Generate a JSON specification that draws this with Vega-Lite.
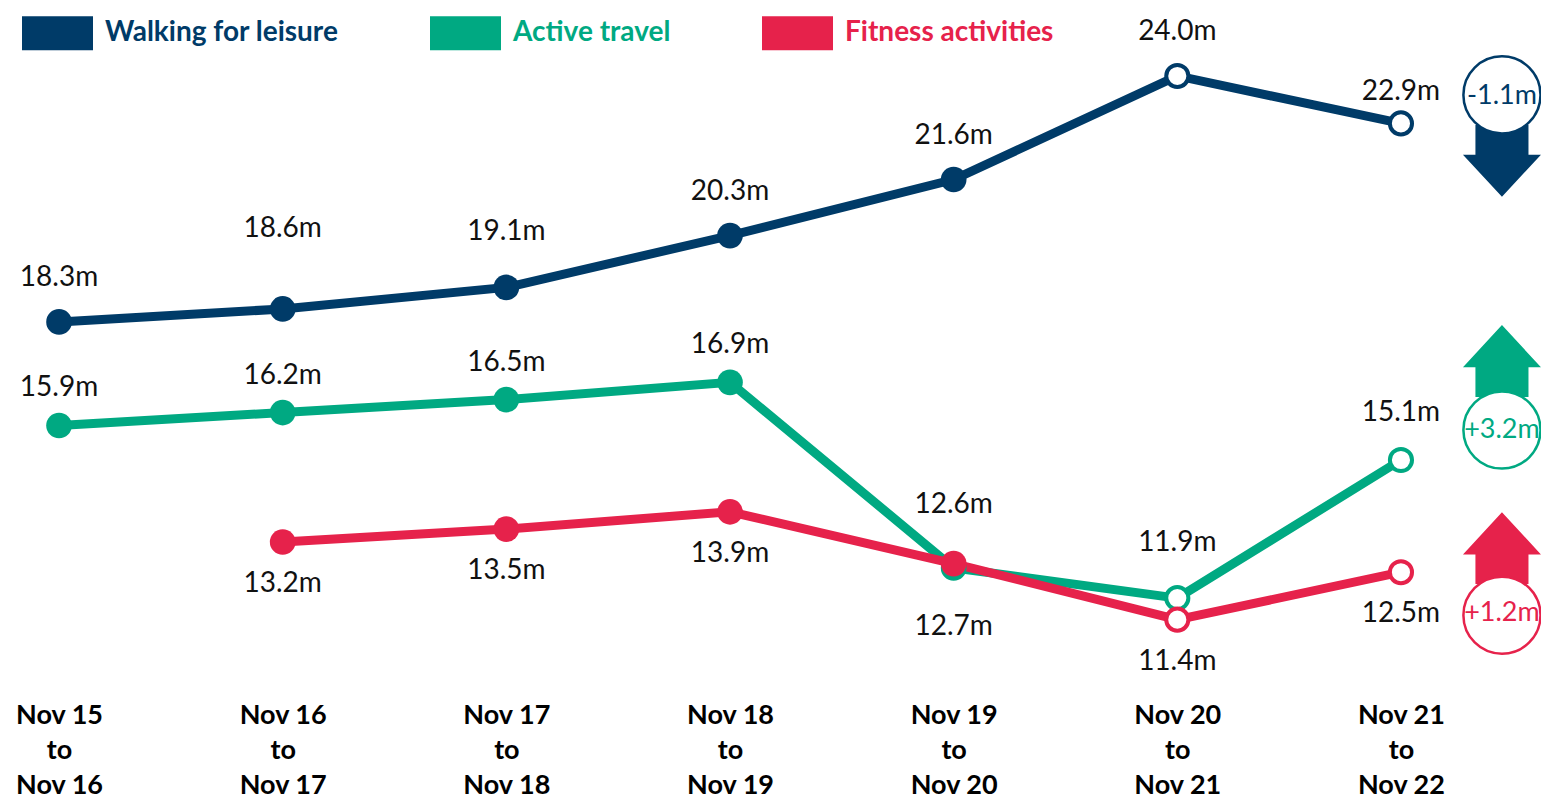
{
  "$schema": "https://vega.github.io/schema/vega-lite/v6.json",
  "width": 1460,
  "height": 690,
  "autosize": "none",
  "padding": {"left": 0, "top": 0, "right": 81, "bottom": 111},
  "background": "white",
  "config": {"view": {"stroke": null}, "font": "Lato"},
  "datasets": {
    "main": [
      {"period": "Nov 15 to Nov 16", "series": "Walking for leisure", "value": 18.3},
      {"period": "Nov 16 to Nov 17", "series": "Walking for leisure", "value": 18.6},
      {"period": "Nov 17 to Nov 18", "series": "Walking for leisure", "value": 19.1},
      {"period": "Nov 18 to Nov 19", "series": "Walking for leisure", "value": 20.3},
      {"period": "Nov 19 to Nov 20", "series": "Walking for leisure", "value": 21.6},
      {"period": "Nov 20 to Nov 21", "series": "Walking for leisure", "value": 24.0},
      {"period": "Nov 21 to Nov 22", "series": "Walking for leisure", "value": 22.9},
      {"period": "Nov 15 to Nov 16", "series": "Active travel", "value": 15.9},
      {"period": "Nov 16 to Nov 17", "series": "Active travel", "value": 16.2},
      {"period": "Nov 17 to Nov 18", "series": "Active travel", "value": 16.5},
      {"period": "Nov 18 to Nov 19", "series": "Active travel", "value": 16.9},
      {"period": "Nov 19 to Nov 20", "series": "Active travel", "value": 12.6},
      {"period": "Nov 20 to Nov 21", "series": "Active travel", "value": 11.9},
      {"period": "Nov 21 to Nov 22", "series": "Active travel", "value": 15.1},
      {"period": "Nov 16 to Nov 17", "series": "Fitness activities", "value": 13.2},
      {"period": "Nov 17 to Nov 18", "series": "Fitness activities", "value": 13.5},
      {"period": "Nov 18 to Nov 19", "series": "Fitness activities", "value": 13.9},
      {"period": "Nov 19 to Nov 20", "series": "Fitness activities", "value": 12.7},
      {"period": "Nov 20 to Nov 21", "series": "Fitness activities", "value": 11.4},
      {"period": "Nov 21 to Nov 22", "series": "Fitness activities", "value": 12.5}
    ],
    "ann": [
      {"period": "Nov 21 to Nov 22", "series": "Walking for leisure", "value": 22.9, "change": "-1.1m"},
      {"period": "Nov 21 to Nov 22", "series": "Active travel", "value": 15.1, "change": "+3.2m"},
      {"period": "Nov 21 to Nov 22", "series": "Fitness activities", "value": 12.5, "change": "+1.2m"}
    ]
  },
  "data": {"name": "main"},
  "transform": [
    {"calculate": "format(datum.value, '.1f') + 'm'", "as": "label"},
    {"calculate": "slice(datum.series, 0, 1) + slice(datum.period, 4, 6)", "as": "key"}
  ],
  "encoding": {
    "x": {
      "field": "period",
      "type": "ordinal",
      "scale": {
        "type": "point",
        "padding": 0.264,
        "domain": ["Nov 15 to Nov 16", "Nov 16 to Nov 17", "Nov 17 to Nov 18", "Nov 18 to Nov 19", "Nov 19 to Nov 20", "Nov 20 to Nov 21", "Nov 21 to Nov 22"]
      },
      "axis": {
        "title": null,
        "domain": false,
        "ticks": false,
        "grid": false,
        "labelAngle": 0,
        "labelFont": "Lato",
        "labelFontSize": 27,
        "labelFontWeight": "bold",
        "labelColor": "#000000",
        "labelLineHeight": 35,
        "labelPadding": 12,
        "labelBaseline": "top",
        "labelOverlap": false,
        "labelLimit": 0,
        "labelExpr": "[slice(datum.label, 0, 6), 'to', slice(datum.label, 10)]"
      }
    },
    "y": {
      "field": "value",
      "type": "quantitative",
      "scale": {"domain": [9.77, 25.76], "zero": false, "nice": false},
      "axis": null
    },
    "color": {
      "field": "series",
      "type": "nominal",
      "scale": {
        "domain": ["Walking for leisure", "Active travel", "Fitness activities"],
        "range": ["#003B68", "#00A982", "#E6224B"]
      },
      "legend": {
        "orient": "none",
        "legendX": 22,
        "legendY": -2.5,
        "direction": "horizontal",
        "title": null,
        "padding": 0,
        "symbolType": "M-1,-0.479H1V0.479H-1Z",
        "symbolSize": 5041,
        "symbolStrokeWidth": 0,
        "labelFont": "Lato",
        "labelFontSize": 28,
        "labelFontWeight": "bold",
        "labelOffset": 12,
        "labelLimit": 500,
        "columnPadding": 91,
        "encode": {
          "symbols": {"update": {"fill": {"scale": "color", "field": "value"}, "fillOpacity": {"value": 1}, "strokeWidth": {"value": 0}, "opacity": {"value": 1}}},
          "labels": {"update": {"fill": {"scale": "color", "field": "value"}}}
        }
      }
    }
  },
  "layer": [
    {"mark": {"type": "line", "strokeWidth": 9}},
    {
      "transform": [{"filter": "datum.period != 'Nov 20 to Nov 21' && datum.period != 'Nov 21 to Nov 22'"}],
      "mark": {"type": "point", "filled": true, "shape": "circle", "size": 660, "opacity": 1, "strokeWidth": 0}
    },
    {
      "transform": [{"filter": "datum.period == 'Nov 20 to Nov 21' || datum.period == 'Nov 21 to Nov 22'"}],
      "mark": {"type": "point", "filled": false, "shape": "circle", "fill": "white", "size": 490, "strokeWidth": 4, "opacity": 1}
    },
    {
      "transform": [{"filter": "indexof(['W15','W18','W19','W20'], datum.key) >= 0"}],
      "mark": {"type": "text", "fontSize": 28, "font": "Lato", "baseline": "middle", "align": "center", "dy": -44},
      "encoding": {"text": {"field": "label"}, "color": {"value": "#111111"}}
    },
    {
      "transform": [{"filter": "indexof(['W16'], datum.key) >= 0"}],
      "mark": {"type": "text", "fontSize": 28, "font": "Lato", "baseline": "middle", "align": "center", "dy": -80},
      "encoding": {"text": {"field": "label"}, "color": {"value": "#111111"}}
    },
    {
      "transform": [{"filter": "indexof(['W17','A20'], datum.key) >= 0"}],
      "mark": {"type": "text", "fontSize": 28, "font": "Lato", "baseline": "middle", "align": "center", "dy": -55},
      "encoding": {"text": {"field": "label"}, "color": {"value": "#111111"}}
    },
    {
      "transform": [{"filter": "indexof(['A19'], datum.key) >= 0"}],
      "mark": {"type": "text", "fontSize": 28, "font": "Lato", "baseline": "middle", "align": "center", "dy": -63},
      "encoding": {"text": {"field": "label"}, "color": {"value": "#111111"}}
    },
    {
      "transform": [{"filter": "indexof(['W21'], datum.key) >= 0"}],
      "mark": {"type": "text", "fontSize": 28, "font": "Lato", "baseline": "middle", "align": "center", "dy": -31},
      "encoding": {"text": {"field": "label"}, "color": {"value": "#111111"}}
    },
    {
      "transform": [{"filter": "indexof(['A15','A16','A17','A18'], datum.key) >= 0"}],
      "mark": {"type": "text", "fontSize": 28, "font": "Lato", "baseline": "middle", "align": "center", "dy": -37},
      "encoding": {"text": {"field": "label"}, "color": {"value": "#111111"}}
    },
    {
      "transform": [{"filter": "indexof(['A21'], datum.key) >= 0"}],
      "mark": {"type": "text", "fontSize": 28, "font": "Lato", "baseline": "middle", "align": "center", "dy": -47},
      "encoding": {"text": {"field": "label"}, "color": {"value": "#111111"}}
    },
    {
      "transform": [{"filter": "indexof(['F16','F17','F18','F20','F21'], datum.key) >= 0"}],
      "mark": {"type": "text", "fontSize": 28, "font": "Lato", "baseline": "middle", "align": "center", "dy": 42},
      "encoding": {"text": {"field": "label"}, "color": {"value": "#111111"}}
    },
    {
      "transform": [{"filter": "indexof(['F19'], datum.key) >= 0"}],
      "mark": {"type": "text", "fontSize": 28, "font": "Lato", "baseline": "middle", "align": "center", "dy": 63},
      "encoding": {"text": {"field": "label"}, "color": {"value": "#111111"}}
    },
    {
      "data": {"name": "ann"},
      "transform": [{"filter": "datum.series == 'Walking for leisure'"}],
      "layer": [
        {"mark": {"type": "point", "filled": true, "shape": "M-0.68,-0.92H0.68V-0.16H1L0,0.92L-1,-0.16H-0.68Z", "size": 6084, "opacity": 1, "strokeWidth": 0, "xOffset": 101, "yOffset": 37.5}},
        {"mark": {"type": "point", "filled": false, "shape": "circle", "fill": "white", "size": 5945, "strokeWidth": 2.5, "opacity": 1, "xOffset": 101, "yOffset": -28.5}},
        {"mark": {"type": "text", "fontSize": 27, "font": "Lato", "baseline": "middle", "align": "center", "dx": 101, "dy": -27}, "encoding": {"text": {"field": "change"}}}
      ]
    },
    {
      "data": {"name": "ann"},
      "transform": [{"filter": "datum.series == 'Active travel'"}],
      "layer": [
        {"mark": {"type": "point", "filled": true, "shape": "M-0.68,0.92H0.68V0.16H1L0,-0.92L-1,0.16H-0.68Z", "size": 6084, "opacity": 1, "strokeWidth": 0, "xOffset": 101, "yOffset": -99}},
        {"mark": {"type": "point", "filled": false, "shape": "circle", "fill": "white", "size": 5945, "strokeWidth": 2.5, "opacity": 1, "xOffset": 101, "yOffset": -30}},
        {"mark": {"type": "text", "fontSize": 27, "font": "Lato", "baseline": "middle", "align": "center", "dx": 101, "dy": -30}, "encoding": {"text": {"field": "change"}}}
      ]
    },
    {
      "data": {"name": "ann"},
      "transform": [{"filter": "datum.series == 'Fitness activities'"}],
      "layer": [
        {"mark": {"type": "point", "filled": true, "shape": "M-0.68,0.92H0.68V0.16H1L0,-0.92L-1,0.16H-0.68Z", "size": 6084, "opacity": 1, "strokeWidth": 0, "xOffset": 101, "yOffset": -24}},
        {"mark": {"type": "point", "filled": false, "shape": "circle", "fill": "white", "size": 5945, "strokeWidth": 2.5, "opacity": 1, "xOffset": 101, "yOffset": 43}},
        {"mark": {"type": "text", "fontSize": 27, "font": "Lato", "baseline": "middle", "align": "center", "dx": 101, "dy": 41}, "encoding": {"text": {"field": "change"}}}
      ]
    }
  ]
}
